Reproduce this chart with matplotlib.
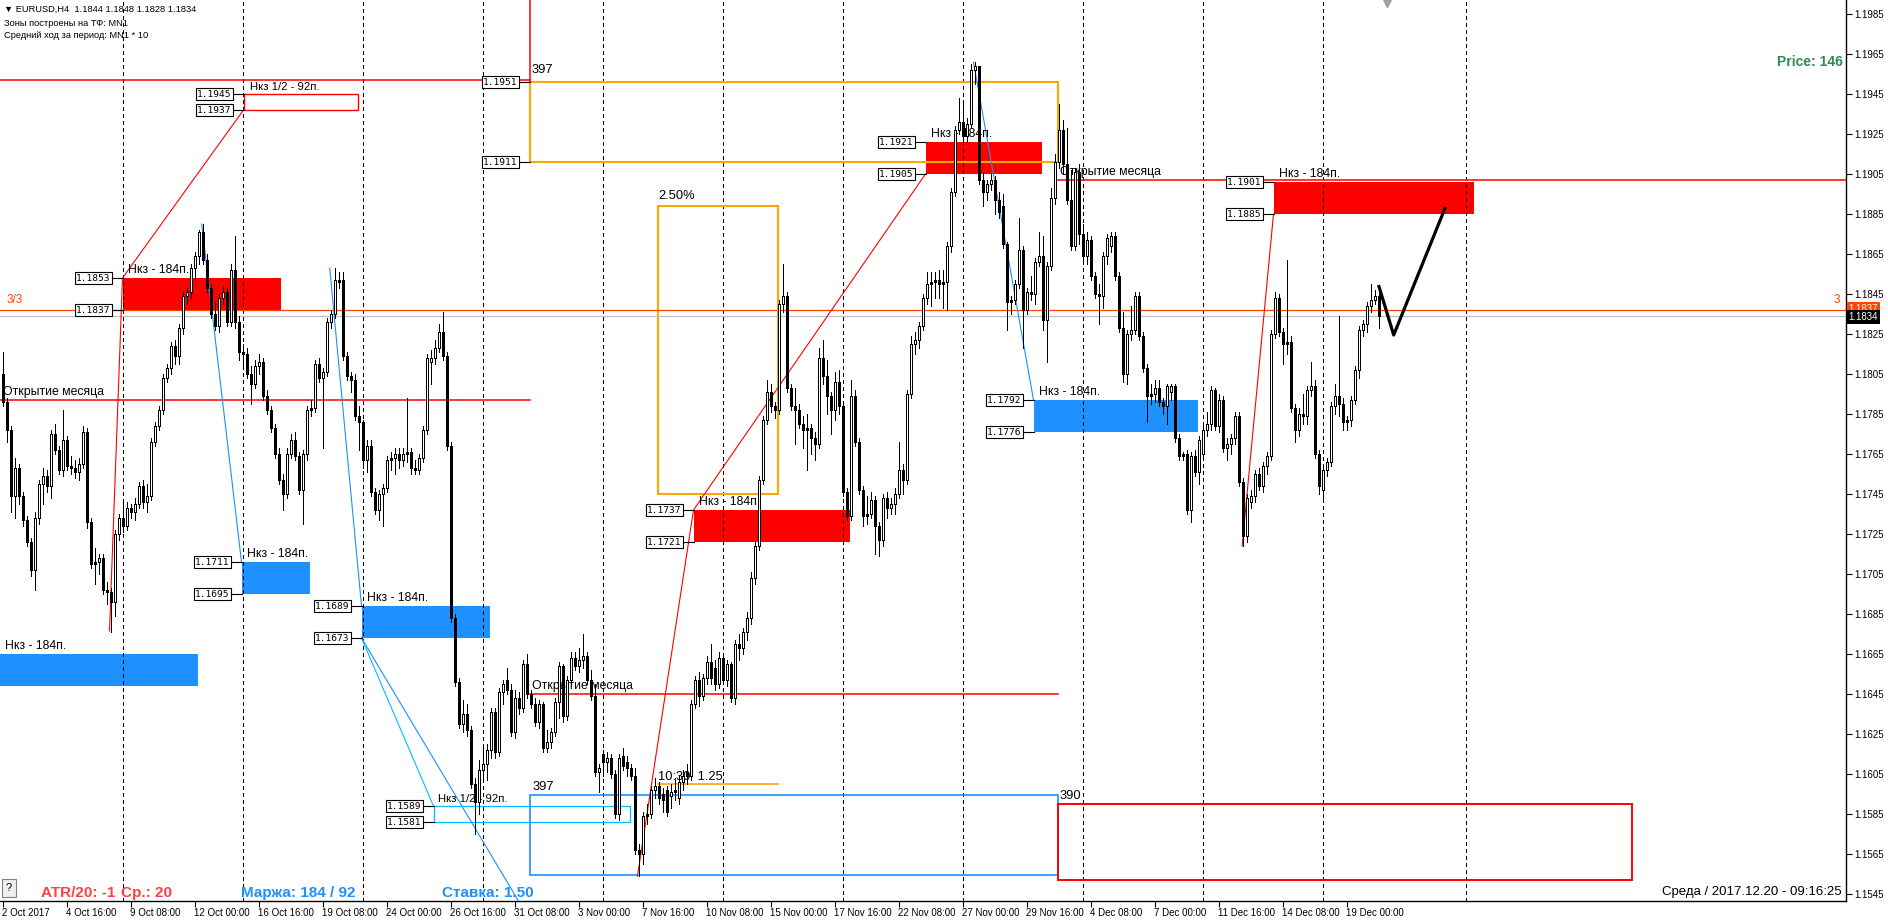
import matplotlib
matplotlib.use("Agg")
import matplotlib.pyplot as plt
from matplotlib.patches import Rectangle
from matplotlib.collections import LineCollection
import matplotlib.transforms as mtransforms

plt.rcParams['font.family'] = ['Liberation Sans', 'DejaVu Sans']

# ---------------- data: EURUSD H4 candles, pips above 1.1500 ----------------
OPEN = [305,291,277,244,258,244,232,221,207,233,250,254,249,275,267,257,272,259,258,256,
        260,276,231,210,211,213,197,196,191,225,233,229,238,236,240,249,241,244,271,279,
        287,303,308,319,314,328,344,346,358,364,376,362,348,335,329,343,346,331,357,331,
        316,315,305,300,309,311,294,287,278,265,252,245,265,272,264,247,265,287,288,310,
        303,306,331,335,351,352,314,304,302,284,281,262,269,246,237,245,248,262,263,265,
        262,265,266,258,257,263,277,311,313,318,326,314,269,183,151,130,135,127,100,91,
        107,110,117,136,116,146,152,147,126,143,138,160,145,140,131,140,118,121,126,141,
        159,134,152,163,159,162,164,152,144,106,115,111,113,105,85,114,111,108,104,67,
        65,84,85,97,99,95,97,94,96,93,101,106,104,140,152,144,153,161,158,150,
        163,152,160,143,170,168,176,183,203,219,252,282,296,289,287,340,344,298,289,287,
        280,277,278,273,270,313,304,294,287,301,289,246,234,294,271,247,234,235,242,229,
        222,243,238,240,245,257,252,295,320,322,329,343,350,351,352,350,351,369,396,427,
        431,424,430,457,459,402,396,400,402,392,389,370,341,342,350,367,337,346,345,361,
        364,332,359,393,411,427,410,392,369,406,375,364,372,354,345,344,364,369,374,354,
        328,305,325,327,344,324,308,294,295,298,291,289,296,299,273,264,265,237,264,256,
        265,277,280,297,279,292,268,270,273,284,251,224,241,244,255,249,259,264,325,343,
        326,320,321,288,277,285,284,297,299,265,247,257,261,289,294,290,281,282,292,307,
        327,330,339,342,344]
HIGH = [316,293,279,263,260,246,234,223,236,252,258,257,277,280,269,287,274,264,262,263,
        279,278,233,218,215,215,201,198,227,235,242,241,240,243,251,252,250,273,281,289,
        305,310,321,322,330,346,348,360,366,377,380,365,350,341,345,349,348,360,374,334,
        320,318,309,312,315,313,297,289,280,268,255,268,275,276,266,267,289,292,312,313,
        308,333,337,358,356,356,316,306,305,289,282,272,272,248,247,250,264,266,268,268,
        268,293,268,262,265,279,315,317,322,330,336,316,271,185,153,142,140,129,103,112,
        118,120,138,138,148,152,158,150,147,146,162,165,147,143,142,141,127,128,143,161,
        160,154,166,166,168,175,166,157,150,110,117,116,115,107,115,118,114,110,108,70,
        86,90,99,103,101,98,99,100,103,104,107,110,142,154,156,155,164,170,162,166,
        165,162,161,172,175,178,186,206,221,254,284,302,300,291,342,360,346,300,298,290,
        284,285,280,276,318,322,312,296,306,307,291,248,302,297,273,249,244,246,244,231,
        245,246,243,248,271,260,297,324,326,331,345,356,356,356,357,357,371,398,429,443,
        440,433,460,461,458,406,402,405,404,396,395,371,344,352,383,369,348,354,363,376,
        374,361,398,415,440,432,428,407,408,410,380,376,374,356,350,366,375,376,376,356,
        336,327,339,346,346,326,310,300,302,302,293,300,300,300,275,266,267,266,267,274,
        279,286,299,298,295,294,273,275,286,286,253,245,247,257,258,261,266,327,346,345,
        328,362,324,290,288,295,299,311,302,267,259,263,291,300,334,293,284,294,309,329,
        332,341,350,347,348]
LOW = [289,271,236,233,240,229,219,204,197,230,240,246,243,265,255,254,257,255,253,252,
       258,228,208,200,205,195,190,176,184,222,226,227,233,232,238,238,236,242,269,277,
       285,301,305,310,310,325,340,343,352,360,360,346,333,327,326,340,329,329,328,312,
       309,303,290,298,305,292,285,276,263,250,237,243,263,262,245,230,262,284,286,301,
       268,304,328,333,348,312,302,296,282,267,258,256,244,235,232,229,246,257,255,258,
       259,261,255,255,255,261,275,300,310,316,312,267,181,149,128,126,124,98,75,85,
       103,102,113,113,114,140,145,124,123,135,136,143,138,129,128,116,116,118,124,133,
       131,132,150,157,156,158,150,142,104,96,104,106,103,83,82,107,104,102,65,54,
       60,80,83,93,90,86,84,88,92,90,97,100,102,138,139,142,150,150,147,148,
       150,149,141,140,162,165,172,180,200,217,250,280,286,283,285,336,296,287,270,278,
       268,257,265,262,268,300,285,275,282,285,244,232,232,269,245,229,230,233,215,214,
       219,233,235,235,243,245,250,293,315,318,327,340,339,343,343,338,337,366,394,425,
       420,421,428,450,400,389,392,397,385,383,368,327,335,340,348,318,335,342,340,359,
       327,311,357,390,408,405,390,367,367,370,360,360,352,343,330,338,360,366,352,326,
       301,300,322,325,322,306,281,290,291,289,285,280,292,271,262,262,235,231,254,250,
       263,274,277,277,276,266,262,265,270,249,219,221,238,241,247,246,255,262,323,324,
       310,315,286,271,274,280,280,294,263,245,242,254,259,285,284,277,277,279,290,303,
       324,326,336,340,328]
CLOSE = [291,277,244,258,244,232,221,207,233,250,254,249,275,267,257,272,259,258,256,260,
         276,231,210,211,213,197,196,191,225,233,229,238,236,240,249,241,244,271,279,287,
         303,308,319,314,328,344,346,358,364,376,362,348,335,329,343,346,331,357,331,316,
         315,305,300,309,311,294,287,278,265,252,245,265,272,264,247,265,287,288,310,303,
         306,331,335,352,352,314,304,302,284,281,262,269,246,237,245,248,262,263,265,262,
         265,266,258,257,263,277,313,313,318,326,314,269,183,151,130,135,127,100,91,107,
         110,117,136,116,146,150,147,126,143,138,160,145,140,131,140,118,121,126,141,159,
         134,152,163,159,162,164,152,144,106,108,111,113,105,85,113,109,108,104,67,65,
         84,85,97,99,93,92,86,96,97,101,104,104,140,152,144,153,161,153,150,163,
         152,160,143,170,168,176,183,203,219,252,282,296,289,287,340,344,298,289,287,280,
         277,278,273,270,313,304,294,287,301,289,246,234,294,271,247,234,235,242,229,222,
         243,238,240,245,257,252,295,320,322,329,343,350,351,352,350,351,369,396,427,431,
         424,430,457,459,402,396,400,402,392,386,370,341,342,350,367,337,346,345,361,364,
         332,359,393,411,427,410,392,369,406,375,364,372,354,345,344,364,373,374,354,328,
         305,325,327,344,324,308,294,295,298,291,289,299,299,273,264,265,237,264,256,272,
         277,280,297,279,292,268,270,273,284,251,224,243,244,255,249,259,264,325,343,326,
         320,321,288,277,285,284,297,299,265,249,257,261,289,294,290,281,282,292,307,327,
         330,339,342,344,334]
PRICE_BASE = 1.1500
PIP = 0.0001

TIME_LABELS = ["2 Oct 2017", "4 Oct 16:00", "9 Oct 08:00", "12 Oct 00:00", "16 Oct 16:00",
               "19 Oct 08:00", "24 Oct 00:00", "26 Oct 16:00", "31 Oct 08:00", "3 Nov 00:00",
               "7 Nov 16:00", "10 Nov 08:00", "15 Nov 00:00", "17 Nov 16:00", "22 Nov 08:00",
               "27 Nov 00:00", "29 Nov 16:00", "4 Dec 08:00", "7 Dec 00:00", "11 Dec 16:00",
               "14 Dec 08:00", "19 Dec 00:00"]
TIME_LABEL_BARS = [0, 16, 32, 48, 64, 80, 96, 112, 128, 144, 160, 176, 192, 208, 224,
                   240, 256, 272, 288, 304, 320, 336]
PRICE_TICKS = [1.1545, 1.1565, 1.1585, 1.1605, 1.1625, 1.1645, 1.1665, 1.1685, 1.1705,
               1.1725, 1.1745, 1.1765, 1.1785, 1.1805, 1.1825, 1.1845, 1.1865, 1.1885,
               1.1905, 1.1925, 1.1945, 1.1965, 1.1985]
WEEK_GRID_BARS = [30, 60, 90, 120, 150, 180, 210, 240, 270, 300, 330, 365.75]

# supply/demand zones  (Нкз - 184п.)
ZONE_START = [-0.6, 30, 59.75, 89.75, 172.75, 230.75, 257.75, 317.75]
ZONE_END = [48.75, 69.6, 76.75, 121.75, 211.75, 259.75, 298.75, 367.75]
ZONE_LOW = [1.1649, 1.1837, 1.1695, 1.1673, 1.1721, 1.1905, 1.1776, 1.1885]
ZONE_HIGH = [1.1665, 1.1853, 1.1711, 1.1689, 1.1737, 1.1921, 1.1792, 1.1901]
ZONE_SELL = [False, True, False, False, True, True, False, True]
ZONE_TAGGED = [False, True, True, True, True, True, True, True]

MONTH_OPEN_START = [-0.6, 131.75, 263.75]
MONTH_OPEN_END = [131.75, 263.75, 461.0]
MONTH_OPEN_PRICE = [1.1792, 1.1645, 1.1902]

LEVEL_3_3 = 1.1837
LAST_PRICE = 1.1834

# ---------------- figure geometry ----------------
W, H, DPI = 1888, 922, 100
PLOT_R, PLOT_B = 1846, 901
PX = 72.0 / DPI          # one pixel in points
X_MIN = -0.625
X_MAX = X_MIN + PLOT_R / 4.0
Y_TOP = 1.1992
Y_BOT = Y_TOP - PLOT_B * 0.00005
PX_PRICE = 0.00005       # one pixel in price units
LBL_FS = 8.8
NUM_FS = 9.3

fig = plt.figure(figsize=(W / DPI, H / DPI), dpi=DPI, facecolor='white')
ax = fig.add_axes([0, 1 - PLOT_B / H, PLOT_R / W, PLOT_B / H])
ax.set_facecolor('white')
ax.set_xlim(X_MIN, X_MAX)
ax.set_ylim(Y_BOT, Y_TOP)

for s in ['left', 'top']:
    ax.spines[s].set_visible(False)
for s in ['right', 'bottom']:
    ax.spines[s].set_linewidth(1.0)
    ax.spines[s].set_color('black')

ax.yaxis.tick_right()
ax.set_yticks(PRICE_TICKS)
ax.set_yticklabels([f"{p:.4f}" for p in PRICE_TICKS])
ax.tick_params(axis='y', direction='out', length=4, width=0.8, labelsize=7, pad=2)
ax.set_xticks(TIME_LABEL_BARS)
ax.set_xticklabels(TIME_LABELS)
ax.tick_params(axis='x', direction='out', length=4, width=0.8, labelsize=7, pad=1)
for lbl in ax.get_xticklabels():
    lbl.set_horizontalalignment('left')

RED = '#FF0000'
BLUE = '#1E90FF'
LBLUE = '#00BFFF'
ORANGE = '#FFA500'
OR_RED = '#FF4500'

# weekly grid
for b in WEEK_GRID_BARS:
    ax.axvline(b, color='black', lw=PX, ls=(0, (3, 3)), zorder=2, antialiased=False)

# zones
for x0, x1, lo, hi, sell, tagged in zip(ZONE_START, ZONE_END, ZONE_LOW, ZONE_HIGH, ZONE_SELL, ZONE_TAGGED):
    ax.add_patch(Rectangle((x0, lo), x1 - x0, hi - lo, facecolor=RED if sell else BLUE,
                           edgecolor='none', zorder=1))
    ax.text(x0 + 1.3 if x0 > 0 else 0.6, hi + 0.00012, "Нкз - 184п.", fontsize=LBL_FS,
            ha='left', va='bottom', zorder=4)


def price_tag(xb, price, txt=None):
    ax.plot([xb - 2.5, xb], [price, price], color='black', lw=0.8, zorder=7)
    ax.text(xb - 3.0, price, txt if txt else f"{price:.4f}", fontsize=6.8, family='DejaVu Sans Mono',
            ha='right', va='center', zorder=8,
            bbox=dict(boxstyle='square,pad=0.15', facecolor='white', edgecolor='black', lw=0.8))


for x0, lo, hi, tagged in zip(ZONE_START, ZONE_LOW, ZONE_HIGH, ZONE_TAGGED):
    if tagged:
        price_tag(x0, hi)
        price_tag(x0, lo)

# outline rectangles
ax.add_patch(Rectangle((60.25, 1.1937), 28.5, 0.0008, fill=False, edgecolor=RED, lw=1.0, zorder=2))
ax.text(61.75, 1.1946, "Нкз 1/2 - 92п.", fontsize=8.2, ha='left', va='bottom', zorder=4)
price_tag(60.25, 1.1945)
price_tag(60.25, 1.1937)

ax.add_patch(Rectangle((107.75, 1.1581), 49.0, 0.0008, fill=False, edgecolor=LBLUE, lw=0.9, zorder=2))
ax.text(109.0, 1.1590, "Нкз 1/2 - 92п.", fontsize=8.2, ha='left', va='bottom', zorder=4)
price_tag(107.75, 1.1589)
price_tag(107.75, 1.1581)

ax.add_patch(Rectangle((131.75, 1.1911), 132.0, 0.0040, fill=False, edgecolor=ORANGE, lw=1.5, zorder=2))
price_tag(131.75, 1.1951)
price_tag(131.75, 1.1911)
ax.text(132.3, 1.1954, "397", fontsize=NUM_FS, ha='left', va='bottom', zorder=4)

ax.add_patch(Rectangle((131.75, 1.15545), 132.0, 0.0040, fill=False, edgecolor=BLUE, lw=1.2, zorder=2))
ax.text(132.6, 1.15955, "397", fontsize=NUM_FS, ha='left', va='bottom', zorder=4)

ax.add_patch(Rectangle((263.75, 1.1552), 143.5, 0.0038, fill=False, edgecolor=RED, lw=1.4, zorder=2))
ax.text(264.3, 1.1591, "390", fontsize=NUM_FS, ha='left', va='bottom', zorder=4)

ax.add_patch(Rectangle((163.75, 1.1745), 30.0, 0.0144, fill=False, edgecolor=ORANGE, lw=1.5, zorder=2))
ax.text(164.0, 1.1891, "2.50%", fontsize=NUM_FS, ha='left', va='bottom', zorder=4)
ax.plot([163.75, 193.75], [1.1600, 1.1600], color=ORANGE, lw=1.2, zorder=2)
ax.text(164.0, 1.16005, "10:30  1.25", fontsize=NUM_FS, ha='left', va='bottom', zorder=4)

# top red level + vertical marker
ax.plot([X_MIN, 131.75], [1.1952, 1.1952], color=RED, lw=1.1, zorder=2)
ax.plot([131.75, 131.75], [1.1951, Y_TOP], color=RED, lw=1.1, zorder=2)

# month opens
for x0, x1, p in zip(MONTH_OPEN_START, MONTH_OPEN_END, MONTH_OPEN_PRICE):
    ax.plot([x0, x1], [p, p], color=RED, lw=1.1, zorder=2)
    ax.text(x0 + (0.7 if x0 < 0 else 0.6), p + 0.0001, "Открытие месяца", fontsize=LBL_FS,
            ha='left', va='bottom', zorder=4)

# 3/3 level and last price
ax.axhline(LEVEL_3_3, color=OR_RED, lw=0.9, zorder=2)
ax.axhline(LAST_PRICE, color='#C0C0C0', lw=0.9, zorder=2)
ax.text(1.0, LEVEL_3_3 + 0.0002, "3/3", color=OR_RED, fontsize=8.5, ha='left', va='bottom', zorder=4)
ax.text(458.5, LEVEL_3_3 + 0.0002, "3", color=OR_RED, fontsize=8.5, ha='center', va='bottom', zorder=4)

# connecting diagonals
ax.plot([26.75, 30, 60.25], [1.16765, 1.1853, 1.1937], color=RED, lw=0.8, zorder=3)
ax.plot([158.75, 172.75, 230.75], [1.1554, 1.1737, 1.1905], color=RED, lw=0.8, zorder=3)
ax.plot([309.9, 317.75], [1.1719, 1.1885], color=RED, lw=0.8, zorder=3)
ax.plot([49.8, 59.75], [1.1880, 1.1711], color=BLUE, lw=0.8, zorder=3)
ax.plot([81.8, 89.75], [1.1858, 1.1689], color=BLUE, lw=0.8, zorder=3)
ax.plot([242.75, 257.75], [1.1961, 1.1792], color=BLUE, lw=0.8, zorder=3)
ax.plot([89.75, 107.75], [1.1673, 1.1589], color=LBLUE, lw=0.8, zorder=3)
ax.plot([89.75, 129.0], [1.1673, Y_BOT], color=BLUE, lw=0.8, zorder=3)

# forecast path
ax.plot([344, 347.8, 360.75], [1.18495, 1.18245, 1.18885], color='black', lw=2.3, zorder=6,
        solid_capstyle='butt')

# candles: 1px wick, 3px body (white bodies get a 1px white core)
wicks, outer, inner = [], [], []
for i, (o, h, l, c) in enumerate(zip(OPEN, HIGH, LOW, CLOSE)):
    po, pc = PRICE_BASE + o * PIP, PRICE_BASE + c * PIP
    wicks.append([(i, PRICE_BASE + l * PIP), (i, PRICE_BASE + h * PIP)])
    bot, top = min(po, pc), max(po, pc)
    if top - bot < PX_PRICE:
        top = bot + PX_PRICE
    outer.append([(i, bot), (i, top)])
    if pc > po and (top - bot) > 2.5 * PX_PRICE:
        inner.append([(i, bot + PX_PRICE), (i, top - PX_PRICE)])
ax.add_collection(LineCollection(wicks, colors='black', linewidths=PX, zorder=5,
                                 antialiaseds=False, capstyle='butt'))
ax.add_collection(LineCollection(outer, colors='black', linewidths=3 * PX, zorder=6,
                                 antialiaseds=False, capstyle='butt'))
ax.add_collection(LineCollection(inner, colors='white', linewidths=PX, zorder=7,
                                 antialiaseds=False, capstyle='butt'))

# right axis price boxes
tr = mtransforms.blended_transform_factory(ax.transAxes, ax.transData)
ax.text(1.0015, LEVEL_3_3 + 0.00003, "1.1837", transform=tr, fontsize=7, color='white', ha='left',
        va='center', zorder=9, clip_on=False,
        bbox=dict(boxstyle='square,pad=0.2', facecolor=OR_RED, edgecolor='none'))
ax.text(1.0015, LAST_PRICE - 0.00005, "1.1834", transform=tr, fontsize=7, color='white', ha='left',
        va='center', zorder=10, clip_on=False,
        bbox=dict(boxstyle='square,pad=0.2', facecolor='black', edgecolor='none'))


# ---------------- figure-level texts ----------------
def ftext(x, y, s, **kw):
    fig.text(x / W, 1 - y / H, s, **kw)


ftext(4, 9, "▼ EURUSD,H4  1.1844 1.1848 1.1828 1.1834", fontsize=6.7, va='center', ha='left')
ftext(4, 24, "Зоны построены на ТФ: MN1", fontsize=6.7, va='center', ha='left')
ftext(4, 35, "Средний ход за период: MN1 * 10", fontsize=6.7, va='center', ha='left')
ftext(1843, 62, "Price: 146", fontsize=10, fontweight='bold', color='#2E8B57', va='center', ha='right')
ftext(41, 893, "ATR/20: -1", fontsize=11, fontweight='bold', color='#FF4040', va='center', ha='left')
ftext(121, 893, "Ср.: 20", fontsize=11, fontweight='bold', color='#FF4040', va='center', ha='left')
ftext(241, 893, "Маржа: 184 / 92", fontsize=11, fontweight='bold', color=BLUE, va='center', ha='left')
ftext(442, 893, "Ставка: 1.50", fontsize=11, fontweight='bold', color=BLUE, va='center', ha='left')
ftext(1842, 892, "Среда / 2017.12.20 - 09:16:25", fontsize=9.5, va='center', ha='right')
ftext(9, 888, "?", fontsize=8, va='center', ha='center',
      bbox=dict(boxstyle='square,pad=0.35', facecolor='#F0F0F0', edgecolor='#808080', lw=0.8))
fig.lines.append(plt.Line2D([1387 / W], [1 - 3 / H], marker='v', markersize=6, color='#A0A0A0',
                            transform=fig.transFigure, figure=fig))

fig.savefig("out.png", dpi=DPI, facecolor='white')
